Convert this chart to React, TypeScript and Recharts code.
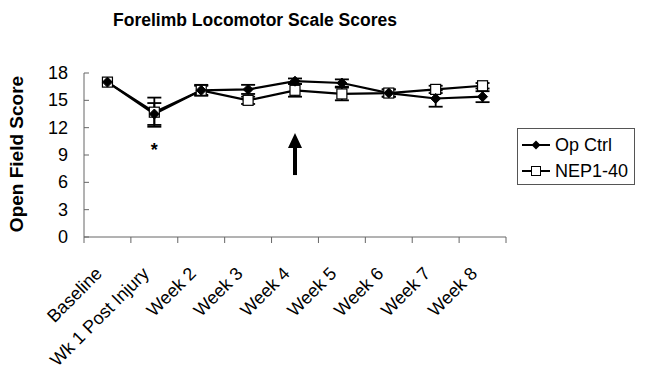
import React from 'react';
import { ComposedChart, Line, XAxis, YAxis, ErrorBar, ReferenceDot } from 'recharts';

const categories = ['Baseline', 'Wk 1 Post Injury', 'Week 2', 'Week 3', 'Week 4', 'Week 5', 'Week 6', 'Week 7', 'Week 8'];
const opCtrl = [17.0, 13.5, 16.1, 16.2, 17.1, 16.9, 15.8, 15.2, 15.4];
const opCtrlErr = [0, 1.2, 0.5, 0.5, 0.3, 0.4, 0.4, 0.9, 0.6];
const nep = [17.0, 13.7, 16.1, 15.0, 16.1, 15.7, 15.8, 16.2, 16.6];
const nepErr = [0, 1.6, 0.6, 0.4, 0.7, 0.7, 0.4, 0.4, 0.3];
const yTicks = [0, 3, 6, 9, 12, 15, 18];

const data = categories.map((c, i) => ({
  name: c,
  op: opCtrl[i],
  opErr: opCtrlErr[i],
  nep: nep[i],
  nepErr: nepErr[i],
}));

const FONT = '"Liberation Sans", Arial, sans-serif';
const PLOT_LEFT = 84;
const PLOT_RIGHT = 506;
const HALF_BAND = (PLOT_RIGHT - PLOT_LEFT) / categories.length / 2;

const Diamond = (props: any) => {
  const { cx, cy } = props;
  if (cx == null || cy == null) return null;
  const r = 5;
  return <path d={`M${cx},${cy - r}L${cx + r},${cy}L${cx},${cy + r}L${cx - r},${cy}Z`} fill="#000" stroke="#000" />;
};

const Square = (props: any) => {
  const { cx, cy } = props;
  if (cx == null || cy == null) return null;
  const s = 5;
  return <rect x={cx - s} y={cy - s} width={2 * s} height={2 * s} fill="#fff" stroke="#000" strokeWidth={1.2} />;
};

const XTick = (props: any) => {
  const { x, y, payload, index } = props;
  const last = index === categories.length - 1;
  const axisY = 237;
  return (
    <g>
      <line x1={x - HALF_BAND} y1={axisY} x2={x - HALF_BAND} y2={axisY + 6} stroke="#666" />
      {last && <line x1={x + HALF_BAND} y1={axisY} x2={x + HALF_BAND} y2={axisY + 6} stroke="#666" />}
      <g transform={`translate(${x},${y})`}>
        <text x={0} y={0} dx={-24} dy={18} textAnchor="end" transform="rotate(-45)" fontSize={18} fontFamily={FONT} fill="#000">
          {payload.value}
        </text>
      </g>
    </g>
  );
};

const YTick = (props: any) => {
  const { y, payload } = props;
  return (
    <g>
      <line x1={PLOT_LEFT} y1={y} x2={PLOT_LEFT + 5} y2={y} stroke="#666" />
      <text x={PLOT_LEFT - 16} y={y} dy={6} textAnchor="end" fontSize={18} fontFamily={FONT} fill="#000">
        {payload.value}
      </text>
    </g>
  );
};

const Arrow = (props: any) => {
  const { cx, cy } = props;
  if (cx == null || cy == null) return null;
  return (
    <g>
      <rect x={cx - 2} y={cy - 30} width={4} height={30} fill="#000" />
      <path d={`M${cx - 7},${cy - 27}L${cx},${cy - 42}L${cx + 7},${cy - 27}Z`} fill="#000" />
    </g>
  );
};

const Star = (props: any) => {
  const { cx, cy } = props;
  if (cx == null || cy == null) return null;
  return (
    <text x={cx} y={cy} textAnchor="middle" dominantBaseline="central" fontSize={18} fontWeight="bold" fontFamily={FONT} fill="#000">
      *
    </text>
  );
};

export default function App() {
  return (
    <div style={{ position: 'relative', width: 645, height: 382, background: '#fff', fontFamily: FONT }}>
      <style>{`body{margin:0;}`}</style>
      <div style={{ position: 'absolute', left: 0, top: 10, width: 510, textAlign: 'center', fontWeight: 'bold', fontSize: 17.5 }}>
        Forelimb Locomotor Scale Scores
      </div>
      <div
        style={{
          position: 'absolute',
          left: 17,
          top: 154,
          transform: 'translate(-50%, -50%) rotate(-90deg)',
          fontWeight: 'bold',
          fontSize: 19,
          whiteSpace: 'nowrap',
        }}
      >
        Open Field Score
      </div>
      <div
        style={{
          position: 'absolute',
          left: 517,
          top: 128,
          border: '1px solid #555',
          width: 118,
          height: 57,
          boxSizing: 'border-box',
          fontSize: 18,
          padding: '3px 0 0 4px',
        }}
      >
        <div style={{ display: 'flex', alignItems: 'center', height: 26 }}>
          <svg width={28} height={14}>
            <line x1={0} y1={7} x2={28} y2={7} stroke="#000" strokeWidth={2} />
            <path d="M14,2.5L18.5,7L14,11.5L9.5,7Z" fill="#000" />
          </svg>
          <span style={{ marginLeft: 5 }}>Op Ctrl</span>
        </div>
        <div style={{ display: 'flex', alignItems: 'center', height: 26 }}>
          <svg width={28} height={14}>
            <line x1={0} y1={7} x2={28} y2={7} stroke="#000" strokeWidth={2} />
            <rect x={9.5} y={2.5} width={9} height={9} fill="#fff" stroke="#000" />
          </svg>
          <span style={{ marginLeft: 5 }}>NEP1-40</span>
        </div>
      </div>
      <ComposedChart width={645} height={382} data={data} margin={{ top: 73, right: 645 - PLOT_RIGHT, bottom: 0, left: 0 }}>
        <XAxis
          dataKey="name"
          interval={0}
          scale="band"
          tick={<XTick />}
          height={145}
          stroke="#666"
          tickLine={false}
        />
        <YAxis
          domain={[0, 18]}
          ticks={yTicks}
          width={PLOT_LEFT}
          stroke="#666"
          tickLine={false}
          tickSize={0}
          tick={<YTick />}
          allowDataOverflow
        />
        <Line dataKey="nep" stroke="#000" strokeWidth={2.2} dot={<Square />} isAnimationActive={false}>
          <ErrorBar dataKey="nepErr" width={7} stroke="#000" strokeWidth={1.8} />
        </Line>
        <Line dataKey="op" stroke="#000" strokeWidth={2.2} dot={<Diamond />} isAnimationActive={false}>
          <ErrorBar dataKey="opErr" width={7} stroke="#000" strokeWidth={1.8} />
        </Line>
        <ReferenceDot x="Wk 1 Post Injury" y={9.6} r={0} shape={<Star />} />
        <ReferenceDot x="Week 4" y={6.8} r={0} shape={<Arrow />} />
      </ComposedChart>
    </div>
  );
}
